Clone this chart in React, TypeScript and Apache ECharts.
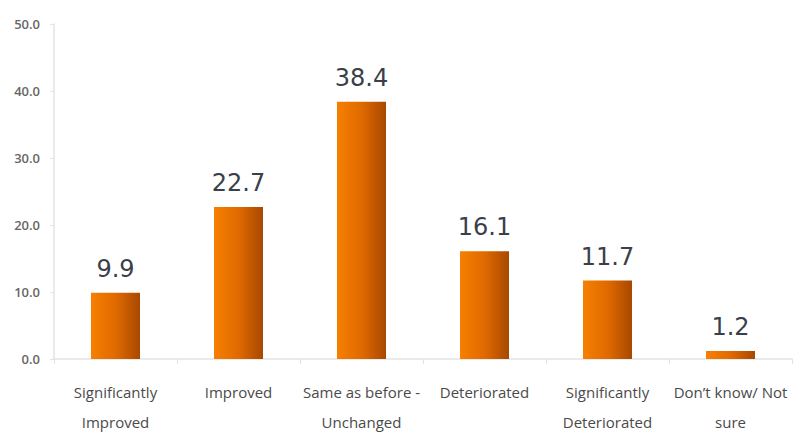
import React, { useEffect, useRef } from "react";
import * as echarts from "echarts";

const categories = [
  "Significantly\nImproved",
  "Improved",
  "Same as before -\nUnchanged",
  "Deteriorated",
  "Significantly\nDeteriorated",
  "Don't know/ Not\nsure",
];
const values = [9.9, 22.7, 38.4, 16.1, 11.7, 1.2];
const yTicks = { min: 0, max: 50, interval: 10 };

export default function App() {
  const ref = useRef<HTMLDivElement>(null);
  useEffect(() => {
    const chart = echarts.init(ref.current!, null, { renderer: "svg" });
    chart.setOption({
      animation: false,
      backgroundColor: "#ffffff",
      grid: { left: 54, right: 7, top: 24, bottom: 88 },
      xAxis: {
        type: "category",
        data: categories.map((c) => c.replace("'", "\u2019")),
        axisLine: { lineStyle: { color: "#e3e3e3", width: 1.5 } },
        axisTick: { show: true, length: 5, lineStyle: { color: "#e3e3e3" } },
        axisLabel: {
          color: "#4a4a4a",
          fontSize: 15,
          fontFamily: "Open Sans, sans-serif",
          lineHeight: 30,
          margin: 18,
          interval: 0,
        },
      },
      yAxis: {
        type: "value",
        min: yTicks.min,
        max: yTicks.max,
        interval: yTicks.interval,
        splitLine: { show: false },
        axisLine: { show: true, lineStyle: { color: "#e3e3e3", width: 1.5 } },
        axisTick: { show: true, length: 4, lineStyle: { color: "#e3e3e3" } },
        axisLabel: {
          color: "#666666",
          fontSize: 13,
          fontWeight: 600,
          fontFamily: "Open Sans, sans-serif",
          margin: 14,
          formatter: (v: number) => v.toFixed(1),
        },
      },
      series: [
        {
          type: "bar",
          data: values,
          barWidth: 49,
          itemStyle: {
            color: new echarts.graphic.LinearGradient(0, 0, 1, 0, [
              { offset: 0, color: "#f77f00" },
              { offset: 0.5, color: "#e06a00" },
              { offset: 1, color: "#a84800" },
            ]),
          },
          label: {
            show: true,
            position: "top",
            distance: 12,
            color: "#3a3f4a",
            fontSize: 24,
            fontFamily: "DejaVu Sans, sans-serif",
            formatter: (p: any) => p.value.toFixed(1),
          },
        },
      ],
    });
    return () => chart.dispose();
  }, []);
  return <div ref={ref} style={{ width: 799, height: 447, position: "absolute", left: 0, top: 0 }} />;
}
